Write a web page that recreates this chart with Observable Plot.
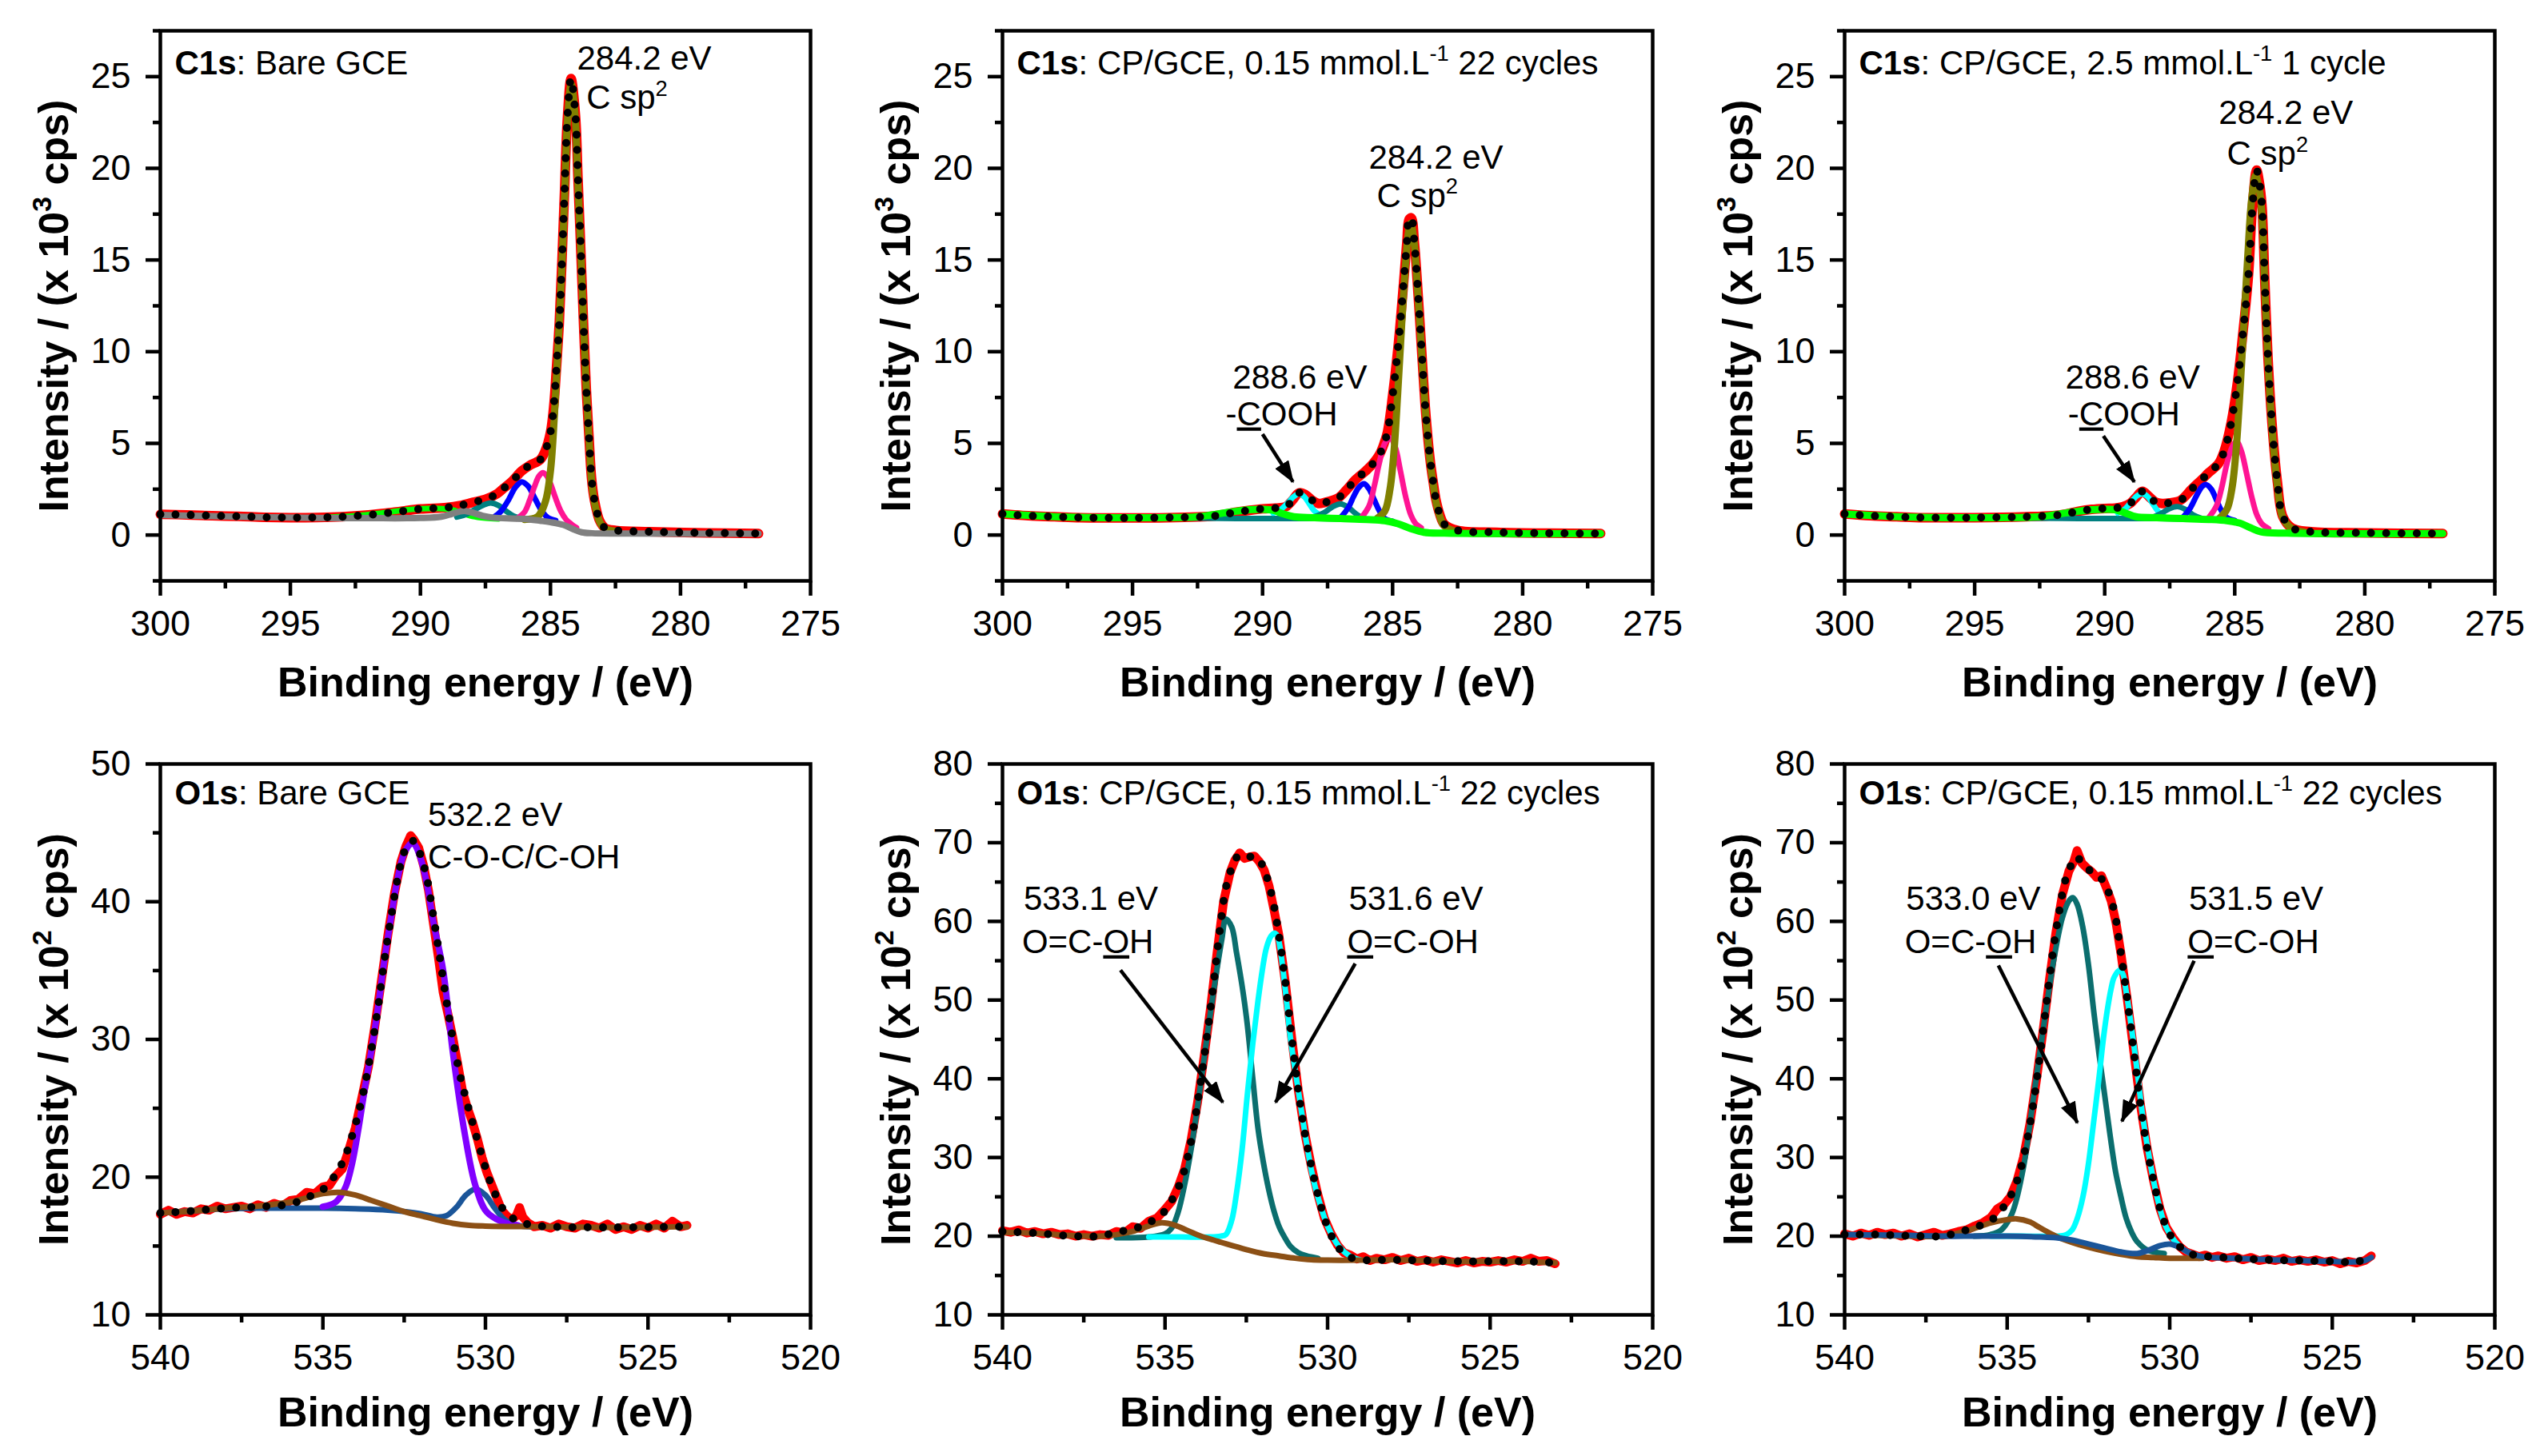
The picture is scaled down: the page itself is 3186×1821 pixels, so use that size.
<!DOCTYPE html>
<html><head><meta charset="utf-8">
<script src="https://cdn.jsdelivr.net/npm/d3@7"></script>
<script src="https://cdn.jsdelivr.net/npm/@observablehq/plot@0.6"></script>
<style>
body{margin:0;background:#fff;}
#wrap{position:relative;width:3186px;height:1821px;background:#fff;}
#wrap svg{position:absolute;}
</style></head><body><div id="wrap"></div>
<script>
// ---------- tick labels ----------
const c1TicksX = [300, 295, 290, 285, 280, 275];
const c1MinorX = [297.5, 292.5, 287.5, 282.5, 277.5];
const c1TicksY = [0, 5, 10, 15, 20, 25];
const c1MinorY = [-2.5, 2.5, 7.5, 12.5, 17.5, 22.5, 27.5];
const o1TicksX = [540, 535, 530, 525, 520];
const o1MinorX = [537.5, 532.5, 527.5, 522.5];
const o1aTicksY = [10, 20, 30, 40, 50];
const o1aMinorY = [15, 25, 35, 45];
const o1bTicksY = [10, 20, 30, 40, 50, 60, 70, 80];
const o1bMinorY = [15, 25, 35, 45, 55, 65, 75];

// ---------- Panel 1: C1s Bare GCE ----------
const c1aFit = [[300,1.13],[299,1.1],[298,1.05],[297,1.02],[296,0.97],[295,0.95],[294,0.96],[293,1.0],[292,1.1],[291,1.25],[290,1.42],[289,1.5],[288.5,1.6],[288,1.78],[287.5,1.95],[287.05,2.25],[286.8,2.55],[286.5,2.9],[286.1,3.5],[285.8,3.8],[285.4,4.1],[285.2,4.6],[285.0,5.6],[284.87,7.1],[284.77,9.1],[284.66,11.6],[284.56,14.9],[284.46,18.7],[284.35,22.7],[284.21,24.9],[284.04,22.9],[283.94,19.4],[283.83,15.4],[283.73,11.6],[283.62,7.9],[283.52,5.4],[283.42,3.1],[283.31,1.9],[283.1,0.75],[282.9,0.38],[282.48,0.25],[281.2,0.18],[279,0.12],[277,0.08]];
const c1aOlive = [[286.0,0.85],[285.5,1.0],[285.2,1.8],[285.0,3.5],[284.85,6.5],[284.7,10.5],[284.55,15],[284.45,18.7],[284.35,22.5],[284.2,24.6],[284.05,22.8],[283.95,19.4],[283.83,15.4],[283.73,11.6],[283.62,7.9],[283.52,5.3],[283.42,3.0],[283.31,1.8],[283.1,0.7],[282.9,0.35],[282.5,0.2]];
const c1aPink = [[286.3,0.9],[286.0,1.25],[285.8,1.9],[285.6,2.7],[285.45,3.2],[285.3,3.4],[285.15,3.25],[285.0,2.8],[284.8,2.0],[284.6,1.3],[284.4,0.85],[284.2,0.6],[284.0,0.4]];
const c1aBlue = [[287.2,0.95],[286.9,1.3],[286.6,1.95],[286.35,2.6],[286.1,2.9],[285.85,2.65],[285.6,2.0],[285.35,1.35],[285.1,0.95],[284.8,0.8]];
const c1aTeal = [[288.6,0.98],[288.2,1.15],[287.9,1.4],[287.6,1.62],[287.3,1.75],[287.0,1.62],[286.7,1.3],[286.4,1.02],[286.1,0.9]];
const c1aGreen = [[293.5,0.97],[292.5,1.05],[291.5,1.2],[290.5,1.38],[290,1.43],[289.3,1.45],[288.8,1.38],[288.4,1.2],[288,1.02],[287.5,0.92],[287,0.88]];
const c1aGray = [[300,1.1],[298,1.03],[296,0.97],[294,0.93],[292,0.92],[290,0.93],[289.2,1.0],[288.8,1.15],[288.5,1.28],[288.3,1.32],[288.0,1.22],[287.6,1.05],[287.2,0.95],[286.5,0.9],[286,0.88],[285.4,0.78],[285,0.7],[284.5,0.55],[284.1,0.3],[283.8,0.15],[283.4,0.1],[282,0.08],[277,0.07]];

// ---------- Panel 2: C1s CP/GCE 0.15 mmol/L 22 cycles ----------
const c1bFit = [[300,1.15],[299,1.05],[298,1.0],[297,0.95],[295,0.93],[293,0.97],[292,1.02],[291.5,1.12],[291,1.25],[290.5,1.35],[290,1.43],[289.5,1.47],[289.1,1.55],[288.85,1.9],[288.6,2.3],[288.35,2.2],[288.1,1.9],[287.85,1.72],[287.6,1.78],[287.3,1.9],[287.06,2.05],[286.75,2.5],[286.44,3.0],[286.03,3.5],[285.75,3.9],[285.5,4.4],[285.35,4.9],[285.2,5.6],[285.0,7.6],[284.78,10.4],[284.58,13.7],[284.45,16.0],[284.37,17.2],[284.28,17.3],[284.16,15.9],[284.05,13.8],[283.95,11.6],[283.85,9.3],[283.75,7.1],[283.65,5.4],[283.54,3.9],[283.43,2.8],[283.33,1.9],[283.18,1.1],[283.02,0.6],[282.5,0.25],[281,0.15],[279,0.1],[277,0.08]];
const c1bBase = [[300,1.15],[298,1.0],[296,0.95],[293,0.93],[291,0.9],[289,0.9],[288,0.9],[287,0.88],[286,0.85],[285.3,0.78],[284.8,0.6],[284.3,0.35],[283.8,0.15],[283,0.1],[277,0.08]];
const c1bOlive = [[285.6,0.9],[285.3,1.3],[285.1,2.5],[284.95,4.5],[284.8,7.8],[284.65,11.5],[284.5,14.8],[284.38,16.6],[284.3,17.0],[284.16,15.8],[284.05,13.6],[283.95,11.5],[283.85,9.2],[283.75,7.0],[283.65,5.3],[283.54,3.8],[283.43,2.7],[283.33,1.8],[283.18,1.0],[283.02,0.5],[282.6,0.2]];
const c1bPink = [[286.2,0.95],[285.9,1.6],[285.7,2.7],[285.5,4.0],[285.3,5.0],[285.1,5.3],[284.9,4.8],[284.7,3.5],[284.5,2.1],[284.3,1.1],[284.1,0.6],[283.9,0.4]];
const c1bBlue = [[287.0,0.95],[286.7,1.5],[286.5,2.1],[286.3,2.6],[286.1,2.8],[285.9,2.5],[285.7,1.9],[285.5,1.3],[285.3,0.9],[285.0,0.75]];
const c1bTeal = [[288.0,1.0],[287.6,1.25],[287.3,1.55],[287.0,1.7],[286.7,1.5],[286.4,1.15],[286.1,0.9]];
const c1bCyan = [[289.6,1.2],[289.3,1.4],[289.0,1.8],[288.8,2.1],[288.6,2.25],[288.4,2.1],[288.2,1.7],[288.0,1.3],[287.7,1.0]];
const c1bGreen = [[300,1.15],[298,1.0],[296,0.95],[294,0.95],[292.5,1.0],[291.5,1.2],[291,1.3],[290.5,1.38],[290,1.4],[289.6,1.35],[289.2,1.15],[288.8,1.0],[288,0.95],[287,0.9],[286,0.85],[285.3,0.78],[284.8,0.62],[284.3,0.35],[283.8,0.15],[283,0.1],[277,0.08]];

// ---------- Panel 3: C1s CP/GCE 2.5 mmol/L 1 cycle ----------
const c1cFit = [[300,1.15],[299,1.05],[298,1.0],[297,0.95],[295,0.95],[293,1.0],[292,1.06],[291.5,1.15],[291,1.3],[290.5,1.4],[290,1.45],[289.6,1.47],[289.3,1.55],[289.0,1.75],[288.8,2.05],[288.55,2.38],[288.3,2.1],[288.05,1.8],[287.8,1.72],[287.5,1.75],[287.08,1.9],[286.66,2.5],[286.25,3.05],[286.0,3.4],[285.62,3.9],[285.4,4.6],[285.14,6.1],[284.89,8.4],[284.68,11.1],[284.47,14.2],[284.32,17.9],[284.16,19.9],[284.05,19.2],[283.95,17.9],[283.84,13.7],[283.7,9.1],[283.53,5.4],[283.36,2.9],[283.15,1.0],[282.8,0.38],[282.07,0.18],[280,0.12],[277,0.08]];
const c1cBase = [[300,1.15],[298,1.0],[296,0.95],[293,0.93],[291,0.9],[289,0.9],[288,0.9],[287,0.88],[286,0.85],[285.3,0.78],[284.8,0.65],[284.4,0.4],[284.0,0.18],[283,0.1],[277,0.08]];
const c1cOlive = [[285.6,0.9],[285.3,1.4],[285.1,2.6],[284.95,4.6],[284.8,7.8],[284.65,11.5],[284.5,15.2],[284.35,18.3],[284.2,19.6],[284.05,18.8],[283.95,17.4],[283.84,13.4],[283.7,8.9],[283.53,5.2],[283.36,2.7],[283.15,0.95],[282.8,0.35],[282.3,0.15]];
const c1cPink = [[286.0,0.95],[285.7,1.6],[285.5,2.6],[285.3,3.9],[285.1,4.8],[284.93,5.1],[284.75,4.6],[284.55,3.4],[284.35,2.1],[284.15,1.1],[283.95,0.6],[283.7,0.35]];
const c1cBlue = [[287.0,0.95],[286.7,1.5],[286.45,2.2],[286.25,2.65],[286.1,2.75],[285.9,2.5],[285.7,1.9],[285.5,1.3],[285.3,0.95],[285.0,0.8]];
const c1cTeal = [[288.1,1.0],[287.8,1.2],[287.5,1.45],[287.2,1.55],[286.9,1.4],[286.6,1.1],[286.3,0.92]];
const c1cCyan = [[289.5,1.2],[289.2,1.45],[288.95,1.85],[288.75,2.15],[288.55,2.25],[288.35,2.1],[288.15,1.7],[287.95,1.3],[287.7,1.0]];
const c1cGreen = [[300,1.15],[298,1.0],[296,0.95],[294,0.95],[292.5,1.0],[291.5,1.2],[291,1.3],[290.5,1.38],[290,1.4],[289.6,1.38],[289.2,1.2],[288.8,1.0],[288,0.95],[287,0.9],[286,0.85],[285.3,0.78],[284.8,0.65],[284.4,0.4],[284.0,0.18],[283,0.1],[277,0.08]];

// ---------- Panel 4: O1s Bare GCE ----------
const o1aData = [[540,17.3],[539.75,17.6],[539.5,17.3],[539.25,17.5],[539,17.4],[538.75,17.7],[538.5,17.6],[538.25,17.9],[538,17.7],[537.75,17.8],[537.5,17.9],[537.25,17.7],[537,18.0],[536.75,17.8],[536.5,18.1],[536.25,17.9],[536,18.3],[535.75,18.4],[535.5,18.9],[535.25,18.8],[535,19.3],[534.8,19.4],[534.6,20.1],[534.4,20.6],[534.2,22.0],[534.0,23.6],[533.8,25.8],[533.6,28.0],[533.4,31.0],[533.2,34.3],[533.0,37.6],[532.8,40.6],[532.6,42.9],[532.45,44.0],[532.3,44.8],[532.2,44.5],[532.05,43.9],[531.9,42.6],[531.75,40.8],[531.6,38.4],[531.45,36.0],[531.3,33.4],[531.15,31.8],[531.0,30.1],[530.85,28.2],[530.7,26.2],[530.55,25.0],[530.4,24.0],[530.25,22.8],[530.1,21.4],[529.95,20.3],[529.8,19.4],[529.65,18.5],[529.5,17.6],[529.35,17.2],[529.2,16.9],[529.05,17.2],[528.95,17.8],[528.85,17.1],[528.7,16.7],[528.5,16.4],[528.25,16.5],[528,16.3],[527.75,16.6],[527.5,16.4],[527.25,16.3],[527,16.6],[526.75,16.5],[526.5,16.3],[526.25,16.6],[526,16.2],[525.75,16.4],[525.5,16.2],[525.25,16.5],[525,16.3],[524.75,16.6],[524.5,16.3],[524.25,16.8],[524,16.4],[523.8,16.5]];
const o1aFit = [[540,17.4],[539,17.55],[538,17.75],[537,17.85],[536,18.05],[535.5,18.5],[535,19.1],[534.7,19.9],[534.5,20.6],[534.3,21.6],[534.1,23.0],[533.9,24.7],[533.7,26.8],[533.5,29.35],[533.3,32.4],[533.1,35.9],[532.9,38.9],[532.7,41.7],[532.5,43.6],[532.3,44.35],[532.2,44.4],[532.0,43.4],[531.8,41.7],[531.6,38.9],[531.4,35.9],[531.2,32.8],[531.0,30.0],[530.8,27.6],[530.6,25.7],[530.4,24.0],[530.2,22.3],[530.0,20.7],[529.8,19.3],[529.6,18.3],[529.4,17.5],[529.0,16.8],[528.5,16.5],[528,16.4],[526,16.35],[524,16.4],[523.8,16.4]];
const o1aPurple = [[535.0,17.85],[534.6,18.2],[534.3,19.3],[534.1,21.0],[533.9,23.6],[533.7,26.6],[533.5,29.3],[533.3,32.4],[533.1,35.9],[532.9,38.9],[532.7,41.7],[532.5,43.5],[532.3,44.2],[532.2,44.2],[532.0,43.2],[531.8,41.3],[531.6,38.5],[531.3,35.0],[531.0,29.0],[530.64,23.2],[530.31,19.4],[529.97,17.5],[529.48,16.75],[529.0,16.5]];
const o1aBlue = [[540,17.4],[539,17.55],[538,17.7],[537,17.75],[536,17.75],[535,17.75],[534,17.7],[533,17.6],[532,17.35],[531.5,17.1],[531.2,17.2],[530.9,17.8],[530.6,18.7],[530.3,19.15],[530.0,18.7],[529.7,17.7],[529.4,16.9],[529.0,16.5],[528.6,16.4]];
const o1aBrown = [[540,17.4],[539,17.55],[538,17.75],[537,17.9],[536,18.2],[535.5,18.5],[535,18.8],[534.5,18.9],[534,18.7],[533.5,18.3],[533,17.9],[532.5,17.5],[532,17.2],[531.5,16.9],[531,16.65],[530.5,16.5],[530,16.45],[528,16.4],[526,16.35],[524,16.4],[523.8,16.4]];

// ---------- Panel 5: O1s CP/GCE (533.1 / 531.6) ----------
const o1bData = [[540,20.7],[539.75,20.5],[539.5,20.8],[539.25,20.4],[539,20.6],[538.75,20.3],[538.5,20.5],[538.25,20.2],[538,20.3],[537.75,20.0],[537.5,20.2],[537.25,20.0],[537,20.2],[536.75,20.1],[536.5,20.6],[536.25,20.4],[536,21.2],[535.75,21.0],[535.5,21.9],[535.25,22.3],[535,23.4],[534.8,24.4],[534.6,26.2],[534.4,28.5],[534.2,32.2],[534.0,37.0],[533.8,42.8],[533.6,49.0],[533.4,56.0],[533.2,62.5],[533.0,66.2],[532.85,67.8],[532.7,68.7],[532.55,68.0],[532.4,68.2],[532.25,68.3],[532.1,67.6],[531.95,66.5],[531.8,64.5],[531.65,61.5],[531.5,58.3],[531.3,52.3],[531.1,45.1],[530.9,38.5],[530.7,33.1],[530.5,28.9],[530.3,25.3],[530.1,22.3],[529.9,20.4],[529.7,18.9],[529.5,17.9],[529.3,17.6],[529.1,17.1],[528.9,17.4],[528.7,16.9],[528.5,17.2],[528.25,17.0],[528,17.3],[527.75,16.9],[527.5,17.2],[527.25,16.8],[527,17.0],[526.75,16.7],[526.5,17.0],[526.25,16.8],[526,16.6],[525.75,16.9],[525.5,16.6],[525.25,16.8],[525,16.7],[524.75,16.9],[524.5,16.7],[524.25,17.0],[524,16.8],[523.75,17.2],[523.5,16.8],[523.25,16.9],[523,16.5]];
const o1bFit = [[540,20.6],[539,20.4],[538,20.05],[537,20.0],[536.5,20.5],[536,20.9],[535.5,21.7],[535,23.2],[534.7,25.3],[534.5,27.1],[534.3,30.1],[534.1,34.3],[533.9,39.7],[533.7,45.7],[533.5,52.3],[533.3,59.4],[533.1,64.8],[532.9,67.2],[532.75,68.3],[532.5,68.0],[532.3,68.3],[532.1,67.8],[531.9,66.0],[531.7,63.0],[531.5,58.3],[531.3,52.3],[531.1,45.1],[530.9,38.5],[530.7,33.1],[530.5,28.9],[530.3,25.3],[530.1,22.3],[529.9,20.2],[529.7,18.7],[529.4,17.5],[529.0,17.0],[528,17.0],[526,16.8],[524,16.8],[523,16.6]];
const o1bTeal = [[536.5,19.8],[535.5,19.9],[535.0,20.3],[534.8,21.0],[534.6,23.0],[534.4,26.5],[534.2,31.0],[534.0,36.5],[533.8,42.5],[533.6,48.5],[533.4,54.0],[533.25,57.8],[533.13,60.3],[532.95,59.3],[532.8,56.0],[532.6,51.0],[532.47,46.9],[532.3,40.0],[532.14,33.7],[531.98,29.5],[531.81,25.9],[531.65,23.2],[531.48,21.1],[531.3,19.7],[531.14,18.7],[530.9,17.9],[530.65,17.5],[530.3,17.2]];
const o1bCyan = [[535.5,19.9],[534.5,19.9],[533.6,19.9],[533.3,20.0],[533.13,20.2],[532.95,22.0],[532.8,25.5],[532.63,31.0],[532.47,37.9],[532.3,44.5],[532.14,49.9],[532.0,54.0],[531.89,56.5],[531.76,58.0],[531.64,58.5],[531.55,58.2],[531.48,57.1],[531.31,51.7],[531.14,45.1],[530.9,38.5],[530.65,31.9],[530.48,28.0],[530.32,25.3],[529.98,21.1],[529.65,18.7],[529.32,17.5],[529.0,17.0]];
const o1bBrown = [[540,20.5],[539,20.4],[538,20.1],[537,20.0],[536.5,20.2],[536,20.6],[535.5,21.3],[535.1,21.7],[534.7,21.4],[534.3,20.7],[533.9,20.0],[533.5,19.5],[533.1,19.0],[532.5,18.3],[532,17.8],[531.5,17.5],[531,17.2],[530.5,17.0],[530,16.95],[529,16.95],[528,17.0],[527,16.9],[526,16.8],[525,16.8],[524,16.8],[523,16.6]];

// ---------- Panel 6: O1s CP/GCE (533.0 / 531.5) ----------
const o1cData = [[540,20.3],[539.75,20.0],[539.5,20.4],[539.25,20.1],[539,20.5],[538.75,20.2],[538.5,20.4],[538.25,20.0],[538,20.3],[537.75,19.9],[537.5,20.2],[537.25,20.5],[537,20.1],[536.75,20.3],[536.5,20.6],[536.25,20.8],[536,21.3],[535.75,21.7],[535.5,22.4],[535.3,23.5],[535.1,24.0],[534.9,25.0],[534.7,27.0],[534.5,30.0],[534.3,34.3],[534.1,39.8],[533.9,46.0],[533.7,52.6],[533.5,58.6],[533.3,63.4],[533.1,66.4],[532.95,67.6],[532.85,69.0],[532.7,67.4],[532.55,66.8],[532.4,66.3],[532.25,65.6],[532.1,65.8],[531.95,64.3],[531.8,62.6],[531.65,59.8],[531.5,55.9],[531.3,49.9],[531.1,43.3],[530.9,36.7],[530.7,31.3],[530.5,27.1],[530.3,23.5],[530.1,21.1],[529.9,19.8],[529.7,18.7],[529.5,18.0],[529.3,17.7],[529.1,17.4],[528.9,17.6],[528.7,17.3],[528.5,17.5],[528.25,17.2],[528,17.4],[527.75,17.0],[527.5,17.3],[527.25,16.9],[527,17.1],[526.75,16.9],[526.5,17.2],[526.25,16.8],[526,17.0],[525.75,16.8],[525.5,17.0],[525.25,16.7],[525,16.9],[524.75,16.5],[524.5,16.8],[524.25,16.6],[524,16.9],[523.8,17.5]];
const o1cFit = [[540,20.2],[539,20.2],[538,20.05],[537,20.0],[536.5,20.5],[536,21.1],[535.5,22.0],[535.2,23.2],[535,24.4],[534.8,25.9],[534.6,28.3],[534.4,31.9],[534.2,36.7],[534.0,42.7],[533.8,49.3],[533.6,55.9],[533.4,61.2],[533.2,65.4],[533.0,67.4],[532.85,68.2],[532.7,67.3],[532.5,66.6],[532.3,66.0],[532.1,65.4],[531.9,63.9],[531.7,61.2],[531.5,55.9],[531.3,49.9],[531.1,43.3],[530.9,36.7],[530.7,31.3],[530.5,27.1],[530.3,23.5],[530.1,21.1],[529.9,19.6],[529.7,18.7],[529.4,17.8],[529.0,17.5],[528,17.2],[527,17.0],[526,16.9],[525,16.8],[524.5,16.7],[524.2,16.8],[523.8,17.3]];
const o1cTeal = [[536,20.0],[535.52,20.2],[535.18,20.8],[534.85,22.9],[534.52,28.3],[534.18,37.9],[533.85,47.5],[533.55,55.5],[533.3,60.5],[533.1,62.6],[532.98,63.0],[532.85,62.2],[532.68,59.4],[532.5,54.5],[532.34,48.7],[532.17,43.0],[532.0,37.9],[531.84,33.0],[531.67,28.3],[531.5,25.0],[531.34,22.3],[531.17,20.5],[531.0,19.3],[530.67,18.2],[530.17,17.8]];
const o1cCyan = [[535.5,20.0],[534.5,20.0],[533.5,20.0],[533.18,20.2],[533.0,20.8],[532.84,22.3],[532.67,25.0],[532.51,28.9],[532.34,34.5],[532.17,40.3],[532.05,44.8],[531.92,48.7],[531.8,51.5],[531.71,52.9],[531.54,53.8],[531.44,53.3],[531.34,51.1],[531.22,47.8],[531.09,43.9],[530.96,39.6],[530.84,35.5],[530.67,31.0],[530.5,27.1],[530.33,24.0],[530.17,21.7],[530.0,20.3],[529.83,19.3],[529.5,18.1],[529.2,17.6]];
const o1cBrown = [[540,20.2],[538,20.0],[537,20.0],[536.5,20.4],[536,21.0],[535.5,21.7],[535.0,22.1],[534.7,22.2],[534.3,21.8],[534.0,21.1],[533.5,20.0],[533.0,19.2],[532.5,18.6],[532,18.1],[531.5,17.7],[531,17.4],[530.5,17.3],[530,17.2],[529,17.2]];
const o1cBlue = [[540,20.2],[539,20.15],[538,20.1],[537,20.0],[536,20.0],[535,20.0],[534,19.9],[533.5,19.8],[533,19.5],[532.5,19.0],[532,18.5],[531.5,18.0],[531.0,17.8],[530.6,18.3],[530.3,18.8],[530.0,19.0],[529.7,18.6],[529.4,17.9],[529.0,17.4],[528,17.2],[527,17.0],[526,16.9],[525,16.8],[524.5,16.7],[524,16.9],[523.8,17.3]];

// ---------- annotations ----------
const titles = ["**C1s**: Bare GCE", "**C1s**: CP/GCE, 0.15 mmol.L^{-1} 22 cycles", "**C1s**: CP/GCE, 2.5 mmol.L^{-1} 1 cycle",
                "**O1s**: Bare GCE", "**O1s**: CP/GCE, 0.15 mmol.L^{-1} 22 cycles", "**O1s**: CP/GCE, 0.15 mmol.L^{-1} 22 cycles"];
const notes1 = [{x:283.98,y:25.4,t:"284.2 eV"},{x:283.62,y:23.25,t:"C sp^{2}"}];
const notes2 = [{x:285.92,y:20.0,t:"284.2 eV"},{x:285.61,y:17.9,t:"C sp^{2}"},{x:291.15,y:8.0,t:"288.6 eV"},{x:291.42,y:6.0,t:"-_{C}OOH"}];
const notes3 = [{x:285.62,y:22.4,t:"284.2 eV"},{x:285.3,y:20.2,t:"C sp^{2}"},{x:291.51,y:8.0,t:"288.6 eV"},{x:291.41,y:6.0,t:"-_{C}OOH"}];
const notes4 = [{x:531.77,y:45.5,t:"532.2 eV"},{x:531.77,y:42.4,t:"C-O-C/C-OH"}];
const notes5 = [{x:539.35,y:61.5,t:"533.1 eV"},{x:539.4,y:56.0,t:"O=C-_{O}H"},{x:529.35,y:61.5,t:"531.6 eV"},{x:529.4,y:56.0,t:"_{O}=C-OH"}];
const notes6 = [{x:538.11,y:61.5,t:"533.0 eV"},{x:538.15,y:56.0,t:"O=C-_{O}H"},{x:529.41,y:61.5,t:"531.5 eV"},{x:529.45,y:56.0,t:"_{O}=C-OH"}];
const arrows2 = [{x1:290.0,y1:5.5,x2:288.83,y2:2.9}];
const arrows3 = [{x1:290.05,y1:5.4,x2:288.86,y2:2.9}];
const arrows5 = [{x1:536.37,y1:53.8,x2:533.22,y2:37.0},{x1:529.15,y1:54.65,x2:531.6,y2:37.0}];
const arrows6 = [{x1:535.27,y1:54.4,x2:532.84,y2:34.4},{x1:529.25,y1:55.0,x2:531.47,y2:34.6}];

const xTitle = "Binding energy / (eV)";
const yTitleC = "Intensity / (x 10^{3} cps)";
const yTitleO = "Intensity / (x 10^{2} cps)";

// ---------- colours ----------
const COL = {red:"#ff0000", olive:"#808000", pink:"#ff1493", blue:"#0000ff", teal:"#008080", green:"#00ff00", gray:"#808080",
  cyan:"#00ffff", dteal:"#0b6e6e", purple:"#8000ff", oblue:"#1a5599", brown:"#8c5015"};

// ---------- helpers ----------
const SVGNS = "http://www.w3.org/2000/svg";
function richText(svg) {
  svg.querySelectorAll("text").forEach(t => {
    const s = t.textContent;
    if (!/\*\*|\^\{|_\{/.test(s)) return;
    while (t.firstChild) t.removeChild(t.firstChild);
    const parts = s.split(/(\*\*[^*]+\*\*|\^\{[^}]*\}|_\{[^}]*\})/).filter(p => p !== "");
    let pending = null;
    for (const p of parts) {
      const ts = document.createElementNS(SVGNS, "tspan");
      if (p.startsWith("**")) { ts.textContent = p.slice(2, -2); ts.setAttribute("font-weight", "bold"); }
      else if (p.startsWith("^{")) {
        ts.textContent = p.slice(2, -1); ts.setAttribute("font-size", "65%"); ts.setAttribute("dy", "-0.6em");
        t.appendChild(ts); pending = "0.39em"; continue;
      }
      else if (p.startsWith("_{")) { ts.textContent = p.slice(2, -1); ts.setAttribute("text-decoration", "underline"); }
      else ts.textContent = p;
      if (pending) { ts.setAttribute("dy", pending); pending = null; }
      t.appendChild(ts);
    }
  });
}

function line(data, color, w, curve) {
  return Plot.line(data, {x: d => d[0], y: d => d[1], stroke: color, strokeWidth: w, curve: curve || "catmull-rom",
    strokeLinejoin: "round", strokeLinecap: "round"});
}

let panelId = 0;
function makePanel(cfg) {
  const top = cfg.row === 0;
  const mt = top ? 38 : 45, ih = top ? 688 : 689, mb = top ? 182 : 177;
  const marks = [];
  for (const s of cfg.series) marks.push(line(s[0], s[1], s[2], s[3]));
  marks.push(Plot.line(cfg.fit, {x: d => d[0], y: d => d[1], stroke: "black", strokeWidth: 10, strokeDasharray: "0 19",
    strokeLinecap: "round", curve: "catmull-rom"}));
  marks.push(
    Plot.axisX({ticks: cfg.xMajor, tickSize: 19, tickPadding: 18, fontSize: 45, strokeWidth: 4.5, label: null, tickFormat: d => String(d)}),
    Plot.axisX({ticks: cfg.xMinor, tickSize: 10, strokeWidth: 4.5, label: null, tickFormat: () => ""}),
    Plot.axisY({ticks: cfg.yMajor, tickSize: 18, tickPadding: 19, fontSize: 45, strokeWidth: 4.5, label: null, tickFormat: d => String(d)}),
    Plot.axisY({ticks: cfg.yMinor, tickSize: 9, strokeWidth: 4.5, label: null, tickFormat: () => ""}),
    Plot.frame({strokeWidth: 4.5}),
    Plot.text([cfg.title], {text: d => d, frameAnchor: "top-left", dx: 18, dy: top ? 54 : 50, lineAnchor: "bottom", textAnchor: "start", fontSize: 42}),
    Plot.text(cfg.notes, {x: "x", y: "y", text: "t", lineAnchor: "bottom", textAnchor: "start", fontSize: 42}),
    Plot.text([xTitle], {text: d => d, frameAnchor: "bottom", dy: top ? 144 : 139, lineAnchor: "bottom", textAnchor: "middle", fontSize: 52, fontWeight: "bold"}),
    Plot.text([cfg.yTitle], {text: d => d, frameAnchor: "left", dx: -116, rotate: -90, lineAnchor: "bottom", textAnchor: "middle", fontSize: 52, fontWeight: "bold"})
  );
  if (cfg.arrows) marks.push(Plot.link(cfg.arrows, {x1: "x1", y1: "y1", x2: "x2", y2: "y2", stroke: "black", strokeWidth: 4.5}));
  const svg = Plot.plot({
    width: 1053, height: mt + ih + mb,
    marginLeft: 200, marginRight: 40, marginTop: mt, marginBottom: mb,
    x: {domain: cfg.xDomain, label: null},
    y: {domain: cfg.yDomain, label: null},
    style: {fontFamily: "'Liberation Sans', Arial, Helvetica, sans-serif", background: "transparent", color: "black", overflow: "visible"},
    marks
  });
  richText(svg);
  if (cfg.arrows) {
    const id = "ah" + (panelId++);
    const defs = d3.select(svg).append("defs");
    defs.append("marker").attr("id", id).attr("viewBox", "0 0 14 10").attr("refX", 13).attr("refY", 5)
      .attr("markerWidth", 28).attr("markerHeight", 20).attr("markerUnits", "userSpaceOnUse").attr("orient", "auto")
      .append("path").attr("d", "M0,0L14,5L0,10Z").attr("fill", "black");
    d3.select(svg).selectAll('g[aria-label="link"] path').attr("marker-end", `url(#${id})`);
  }
  svg.style.left = (cfg.col * 1053) + "px";
  svg.style.top = (top ? 0 : 910) + "px";
  document.getElementById("wrap").appendChild(svg);
}

const c1Axes = {xDomain: [300, 275], yDomain: [-2.5, 27.5], xMajor: c1TicksX, xMinor: c1MinorX, yMajor: c1TicksY, yMinor: c1MinorY, yTitle: yTitleC};

makePanel({...c1Axes, col: 0, row: 0, title: titles[0], notes: notes1, fit: c1aFit,
  series: [[c1aFit, COL.red, 12, "catmull-rom"], [c1aGreen, COL.green, 7], [c1aTeal, COL.teal, 7], [c1aBlue, COL.blue, 7], [c1aPink, COL.pink, 7], [c1aOlive, COL.olive, 9], [c1aGray, COL.gray, 8]]});
makePanel({...c1Axes, col: 1, row: 0, title: titles[1], notes: notes2, arrows: arrows2, fit: c1bFit,
  series: [[c1bFit, COL.red, 12], [c1bBase, COL.teal, 7], [c1bCyan, COL.cyan, 7], [c1bTeal, COL.teal, 7], [c1bBlue, COL.blue, 7], [c1bPink, COL.pink, 7], [c1bOlive, COL.olive, 9], [c1bGreen, COL.green, 9]]});
makePanel({...c1Axes, col: 2, row: 0, title: titles[2], notes: notes3, arrows: arrows3, fit: c1cFit,
  series: [[c1cFit, COL.red, 12], [c1cBase, COL.teal, 7], [c1cCyan, COL.cyan, 7], [c1cTeal, COL.teal, 7], [c1cBlue, COL.blue, 7], [c1cPink, COL.pink, 7], [c1cOlive, COL.olive, 9], [c1cGreen, COL.green, 9]]});
makePanel({xDomain: [540, 520], yDomain: [10, 50], xMajor: o1TicksX, xMinor: o1MinorX, yMajor: o1aTicksY, yMinor: o1aMinorY, yTitle: yTitleO,
  col: 0, row: 1, title: titles[3], notes: notes4, fit: o1aFit,
  series: [[o1aData, COL.red, 11, "linear"], [o1aBlue, COL.oblue, 7], [o1aPurple, COL.purple, 8], [o1aBrown, COL.brown, 7]]});
makePanel({xDomain: [540, 520], yDomain: [10, 80], xMajor: o1TicksX, xMinor: o1MinorX, yMajor: o1bTicksY, yMinor: o1bMinorY, yTitle: yTitleO,
  col: 1, row: 1, title: titles[4], notes: notes5, arrows: arrows5, fit: o1bFit,
  series: [[o1bData, COL.red, 11, "linear"], [o1bTeal, COL.dteal, 7], [o1bCyan, COL.cyan, 7], [o1bBrown, COL.brown, 7]]});
makePanel({xDomain: [540, 520], yDomain: [10, 80], xMajor: o1TicksX, xMinor: o1MinorX, yMajor: o1bTicksY, yMinor: o1bMinorY, yTitle: yTitleO,
  col: 2, row: 1, title: titles[5], notes: notes6, arrows: arrows6, fit: o1cFit,
  series: [[o1cData, COL.red, 11, "linear"], [o1cTeal, COL.dteal, 7], [o1cCyan, COL.cyan, 7], [o1cBrown, COL.brown, 7], [o1cBlue, COL.oblue, 7]]});
</script>
</body></html>
